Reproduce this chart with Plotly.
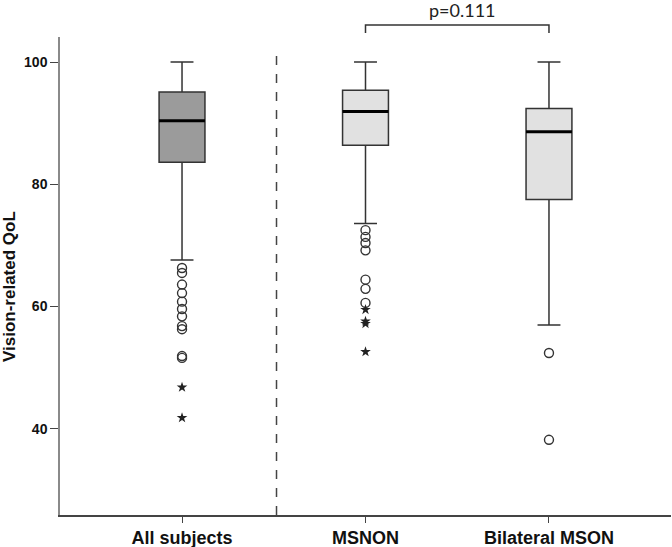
import plotly.graph_objects as go

categories = ["All subjects", "MSNON", "Bilateral MSON"]
q1 = [83.6, 86.4, 77.5]
median = [90.4, 91.9, 88.6]
q3 = [95.1, 95.4, 92.4]
lower_whisker = [67.6, 73.6, 57.0]
upper_whisker = [100.0, 100.0, 100.0]
box_fill = ["#9b9b9b", "#e1e1e1", "#e1e1e1"]

outlier_circles = [
    [66.3, 65.5, 63.6, 62.2, 60.8, 59.6, 58.4, 56.8, 56.3, 51.9, 51.6],
    [72.5, 71.4, 70.4, 69.2, 64.4, 62.9, 60.6],
    [52.4, 38.2],
]
outlier_stars = [
    [46.8, 41.8],
    [59.5, 57.6, 57.2, 52.6],
    [],
]
p_label = "p=0.111"
y_title = "Vision-related QoL"
y_ticks = [40, 60, 80, 100]

BOX_W = 0.25
fig = go.Figure()
for i, cat in enumerate(categories):
    fig.add_trace(go.Box(
        x=[i], q1=[q1[i]], median=[median[i]], q3=[q3[i]],
        lowerfence=[lower_whisker[i]], upperfence=[upper_whisker[i]],
        width=BOX_W, whiskerwidth=0.5, boxpoints=False,
        fillcolor=box_fill[i], line=dict(color="#333333", width=1.5),
        name=cat, showlegend=False, hoverinfo="skip",
    ))
    fig.add_trace(go.Scatter(
        x=[i - BOX_W / 2, i + BOX_W / 2], y=[median[i], median[i]],
        mode="lines", line=dict(color="#000000", width=3),
        showlegend=False, hoverinfo="skip",
    ))
    if outlier_circles[i]:
        fig.add_trace(go.Scatter(
            x=[i] * len(outlier_circles[i]), y=outlier_circles[i], mode="markers",
            marker=dict(symbol="circle-open", size=9, color="#333333",
                        line=dict(width=1.4, color="#333333")),
            showlegend=False, hoverinfo="skip",
        ))
    if outlier_stars[i]:
        fig.add_trace(go.Scatter(
            x=[i] * len(outlier_stars[i]), y=outlier_stars[i], mode="markers",
            marker=dict(symbol="star", size=8, color="#222222",
                        line=dict(width=0)),
            showlegend=False, hoverinfo="skip",
        ))

# dashed separator
fig.add_shape(type="line", xref="x", yref="y", x0=0.515, x1=0.515, y0=25.9, y1=101.8,
              line=dict(color="#444444", width=1.5, dash="dash"))
# significance bracket
fig.add_shape(type="path", xref="x", yref="paper",
              path="M 1,1.0084 L 1,1.0251 L 2,1.0251 L 2,1.0084",
              line=dict(color="#333333", width=1.5))
fig.add_annotation(x=1.5, y=1.0533, xref="x", yref="paper", text=p_label,
                   showarrow=False, yanchor="middle", xshift=5, yshift=2,
                   font=dict(family="Lato", size=18, color="#222222"))
# y-axis title
fig.add_annotation(x=-0.0818, y=0.477, xref="paper", yref="paper",
                   text="<b>" + y_title + "</b>", textangle=-90, showarrow=False,
                   xanchor="center", yanchor="middle",
                   font=dict(family="Liberation Sans", size=17, color="#111111"))

fig.update_layout(
    width=672, height=547,
    margin=dict(l=60, r=1, t=37, b=32, autoexpand=False),
    paper_bgcolor="white", plot_bgcolor="white",
    font=dict(family="Liberation Sans", color="#111111"),
)
fig.update_xaxes(
    range=[-0.665, 2.665], tickmode="array", tickvals=[0, 1, 2], ticktext=categories,
    showgrid=False, zeroline=False, showline=True, linecolor="#444444", linewidth=1.5,
    ticks="outside", ticklen=6, tickcolor="#444444", automargin=False,
    tickfont=dict(family="Liberation Sans", size=18, color="#111111", weight="bold"),
)
fig.update_yaxes(
    range=[25.9, 104.1], tickmode="array", tickvals=y_ticks,
    showgrid=False, zeroline=False, showline=True, linecolor="#8a8a8a", linewidth=1.5,
    ticks="outside", ticklen=8, tickcolor="#444444", automargin=False,
    tickfont=dict(family="Liberation Sans", size=14, color="#111111", weight="bold"),
)
fig.write_html(
    "out.html",
    config={"displayModeBar": False},
    post_script="document.body.style.margin='0';document.body.style.overflow='hidden';",
)
